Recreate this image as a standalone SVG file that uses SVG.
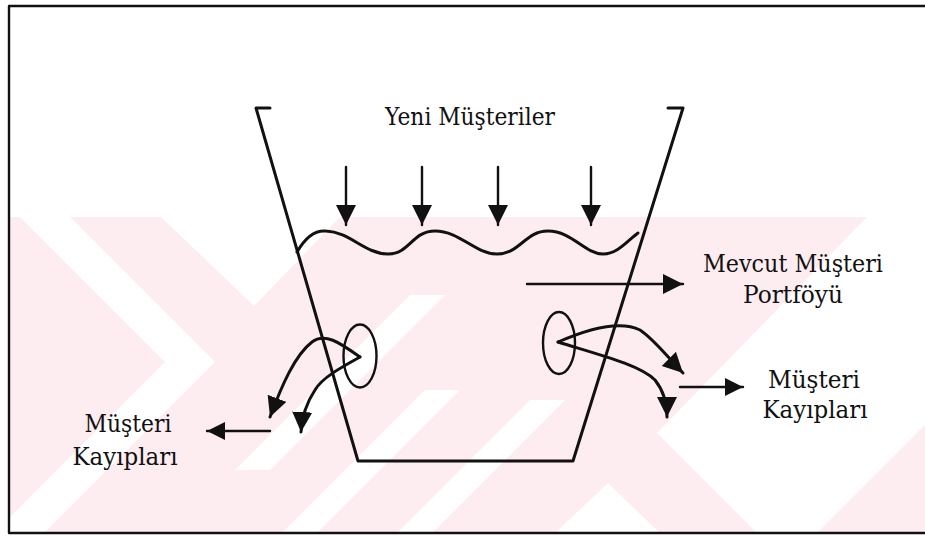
<svg xmlns="http://www.w3.org/2000/svg" width="925" height="537" viewBox="0 0 925 537">
<style>
.ln{fill:none;stroke:#111;stroke-width:2.4;stroke-linecap:round;stroke-linejoin:round}
.thick{stroke-width:3}
.t{font-family:'DejaVu Serif','Liberation Serif',serif;font-size:25px;fill:#111;text-anchor:middle}
.w{fill:#fff}
</style>
<defs>
<clipPath id="wmclip"><rect x="9" y="217" width="916" height="316"/></clipPath>
<marker id="ah" markerUnits="userSpaceOnUse" markerWidth="22" markerHeight="22" refX="20" refY="10" orient="auto" viewBox="0 0 22 22">
<path d="M0,0 L20,10 L0,20 Z" fill="#111"/>
</marker>
<marker id="ahs" markerUnits="userSpaceOnUse" markerWidth="20" markerHeight="20" refX="18" refY="9" orient="auto" viewBox="0 0 20 20">
<path d="M0,0 L18,9 L0,18 Z" fill="#111"/>
</marker>
</defs>
<rect width="925" height="537" fill="#fff"/>
<g id="watermark" clip-path="url(#wmclip)">
<rect x="9" y="217" width="916" height="316" fill="#fdedf0"/>
<polygon class="w" points="20,217 70,217 215,362 44,533 -6,533 165,362"/>
<polygon class="w" points="161,217 340,217 254,306"/>
<polygon class="w" points="425,390 460,390 317,533 282,533"/>
<polygon class="w" points="530,400 565,400 432,533 397,533"/>
<polygon class="w" points="410,295 445,295 270,470 235,470"/>
<polygon class="w" points="555,533 660,533 608,483"/>
<polygon class="w" points="867,217 925,217 925,425 817,533 757,533 657,433"/>
</g>
<g id="frame">
<path class="ln" d="M9,6 H925 M9,6 V533 M9,533 H925"/>
</g>
<g id="bucket">
<path class="ln thick" d="M270,108 H256 L358,461 H573 L683,108 H668"/>
</g>
<g id="wave">
<path class="ln thick" d="M297,252 C305,238 315,230 326,231 C350,232 365,254 388,254 C410,254 412,231 435,231 C460,231 475,254 497,254 C520,254 525,231 548,231 C572,231 585,254 603,254 C618,254 628,240 638,233"/>
</g>
<g id="ellipses">
<ellipse id="leftHole" class="ln" cx="360" cy="356" rx="16.5" ry="31.5"/>
<ellipse id="rightHole" class="ln" cx="559" cy="343" rx="16" ry="31"/>
</g>
<g id="connectors">
<path class="ln" d="M346,167 V225" marker-end="url(#ah)"/>
<path class="ln" d="M422,167 V225" marker-end="url(#ah)"/>
<path class="ln" d="M498,167 V225" marker-end="url(#ah)"/>
<path class="ln" d="M591,167 V225" marker-end="url(#ah)"/>
<path class="ln" d="M527,284 H683" marker-end="url(#ah)"/>
<path class="ln thick" d="M360,357 C340,343 325,332 312,342 C295,355 282,385 270,417" marker-end="url(#ah)"/>
<path class="ln thick" d="M360,357 C340,368 322,378 315,390 C307,402 302,415 301,432" marker-end="url(#ah)"/>
<path class="ln thick" d="M558,342 C590,328 620,320 640,330 C655,340 670,360 683,373" marker-end="url(#ah)"/>
<path class="ln thick" d="M558,342 C600,355 640,365 655,380 C663,390 667,402 667,417" marker-end="url(#ah)"/>
<path class="ln" d="M270,431 H207" marker-end="url(#ahs)"/>
<path class="ln" d="M680,387 H743" marker-end="url(#ahs)"/>
</g>
<g id="labelNew"><text class="t" x="470" y="125" textLength="170" lengthAdjust="spacingAndGlyphs">Yeni Müşteriler</text></g>
<g id="labelPortfolio"><text class="t" x="793" y="272" textLength="180" lengthAdjust="spacingAndGlyphs">Mevcut Müşteri</text><text class="t" x="793" y="303" textLength="100" lengthAdjust="spacingAndGlyphs">Portföyü</text></g>
<g id="labelLossRight"><text class="t" x="814" y="388" textLength="92" lengthAdjust="spacingAndGlyphs">Müşteri</text><text class="t" x="815" y="418" textLength="105" lengthAdjust="spacingAndGlyphs">Kayıpları</text></g>
<g id="labelLossLeft"><text class="t" x="128" y="432" textLength="87" lengthAdjust="spacingAndGlyphs">Müşteri</text><text class="t" x="125" y="465" textLength="105" lengthAdjust="spacingAndGlyphs">Kayıpları</text></g>
</svg>
